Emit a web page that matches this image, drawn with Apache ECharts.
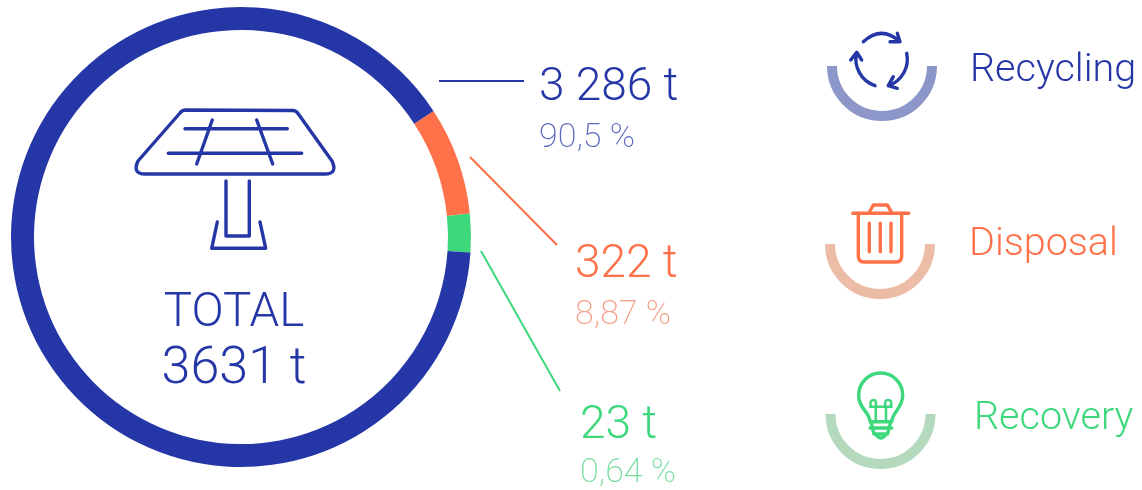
<!DOCTYPE html>
<html>
<head>
<meta charset="utf-8">
<style>
    html, body { margin: 0; padding: 0; background: #fff; }
    #main { width: 1142px; height: 490px; }
</style>
</head>
<body>
<div id="main"></div>
<script src="https://cdn.jsdelivr.net/npm/echarts@6/dist/echarts.min.js"></script>
<script>
    // ring shares as drawn in the picture (not the same as the printed %)
    const categories = ['Disposal', 'Recovery', 'Recycling'];
    const ringShares = [7.6, 2.7, 89.7];
    const tonnages = ['322 t', '23 t', '3 286 t'];
    const percents = ['8,87 %', '0,64 %', '90,5 %'];
    const totalLabel = 'TOTAL';
    const totalValue = '3631 t';

    const BLUE = '#2536a6', ORANGE = '#ff7148', GREEN = '#3ed87c';
    const colors = [ORANGE, GREEN, BLUE];

    function txt(x, y, text, size, color, extra) {
        return {
            type: 'text', x: x, y: y, silent: true,
            style: Object.assign({
                text: text, fill: color, fontSize: size, fontWeight: 300,
                fontFamily: 'Roboto', verticalAlign: 'middle'
            }, extra || {})
        };
    }
    let iconCount = 0;
    function icon(d, color, width) {
        // graphic component has no plain 'path' type, so register each one
        const name = 'iconPath' + (iconCount++);
        echarts.graphic.registerShape(name, echarts.graphic.extendPath(d, {}));
        return {
            type: name, silent: true,
            style: { fill: null, stroke: color, lineWidth: width || 3.4, lineCap: 'round', lineJoin: 'round' }
        };
    }
    function lead(x1, y1, x2, y2, color) {
        return {
            type: 'line', silent: true,
            shape: { x1: x1, y1: y1, x2: x2, y2: y2 },
            style: { stroke: color, lineWidth: 2 }
        };
    }
    function smile(cx, cy, color) {
        return {
            type: 'arc', silent: true,
            shape: { cx: cx, cy: cy, r: 50, startAngle: 0, endAngle: Math.PI, clockwise: true },
            style: { fill: null, stroke: color, lineWidth: 10, lineCap: 'butt' }
        };
    }

    const myChart = echarts.init(document.getElementById('main'), null, { renderer: 'canvas' });
    myChart.setOption({
        animation: false,
        backgroundColor: '#fff',
        series: [{
            type: 'pie',
            center: [241, 237],
            radius: [207, 230],
            startAngle: 33.2,
            clockwise: true,
            silent: true,
            label: { show: false },
            labelLine: { show: false },
            data: categories.map(function (name, i) {
                return { name: name, value: ringShares[i], itemStyle: { color: colors[i] } };
            })
        }],
        graphic: { elements: [
            // solar panel
            icon('M186,110 L293,110.5 Q296,110.5 298,113.5 L332,161 Q338,174 325,174 L145,174 Q132,174 138,161 L180,113 Q182,110 186,110 Z', BLUE),
            icon('M185,128.7 L287.3,128.7 M168.3,153.3 L301.7,153.3 M212.3,120 L196.7,164 M256.7,120 L272.7,164', BLUE),
            icon('M226,181 L226,236 L249.3,236 L249.3,181 M217.3,222 L211.7,248.3 L265.7,248.3 L260,222', BLUE),
            txt(234, 314, totalLabel, 47.5, BLUE, { textAlign: 'center' }),
            txt(234, 370, totalValue, 52, BLUE, { textAlign: 'center' }),

            // leader lines + values
            lead(439, 81, 524, 81, BLUE),
            lead(470, 157, 557, 245, ORANGE),
            lead(481, 251, 560, 391, GREEN),
            txt(539, 88, tonnages[2], 46, BLUE),
            txt(539, 138, percents[2], 34, '#5d6abf', { fontWeight: 200 }),
            txt(575, 265, tonnages[0], 46, ORANGE),
            txt(575, 315, percents[0], 34, '#f59d82', { fontWeight: 200 }),
            txt(580, 426, tonnages[1], 46, GREEN),
            txt(580, 473, percents[1], 34, '#76dc9f', { fontWeight: 200 }),

            // legend on the right
            smile(882, 66, '#8d96c9'),
            icon('M863.3,41.7 Q881.5,25 900,41.7 M897.3,33.3 L900,41.7 L890,41.7', BLUE),
            icon('M906.7,53.3 A28,28 0 0 1 888.3,85.7 M893.3,76.7 L888.3,85.7 L897.3,88.3', BLUE),
            icon('M875,85.7 A28,28 0 0 1 856.7,52.5 M850.7,60 L856.7,52.3 L861.7,60', BLUE),
            txt(970, 71, categories[2], 39.5, BLUE),

            smile(880, 244, '#ecbca6'),
            icon('M852.7,213.3 L908.7,213.3 M869.3,212.3 L873.3,205 L887.3,205 L891.7,212.3', ORANGE),
            icon('M858.3,213.3 L858.3,256 Q858.3,262 864,262 L896,262 Q901.7,262 901.7,256 L901.7,213.3', ORANGE),
            icon('M869.3,223.3 L869.3,251.7 M880.3,223.3 L880.3,251.7 M891,223.3 L891,251.7', ORANGE),
            txt(969, 245, categories[0], 39.5, ORANGE),

            smile(880.5, 414, '#b5d9bd'),
            icon('M870,421.7 C870,412 858,408 858.7,395 A22,22 0 0 1 902.7,395 C903,408 892,412 891.7,421.7 Z', GREEN),
            icon('M870,428 L891.7,428 M871,422 L874,434 L887.5,434 L890.5,422 M876,435 Q881,441 885.5,435', GREEN),
            icon('M870,406.7 L891.7,406.7 M875.7,406.7 L875.7,421 M886,406.7 L886,421 M871,406.7 Q869,400 874,400 Q877,400 875.7,406.7 M885.5,406.7 Q884,400 888,400 Q893,400 890.5,406.7', GREEN, 2.5),
            txt(974, 419, categories[1], 39.5, GREEN)
        ] }
    });
</script>
</body>
</html>
